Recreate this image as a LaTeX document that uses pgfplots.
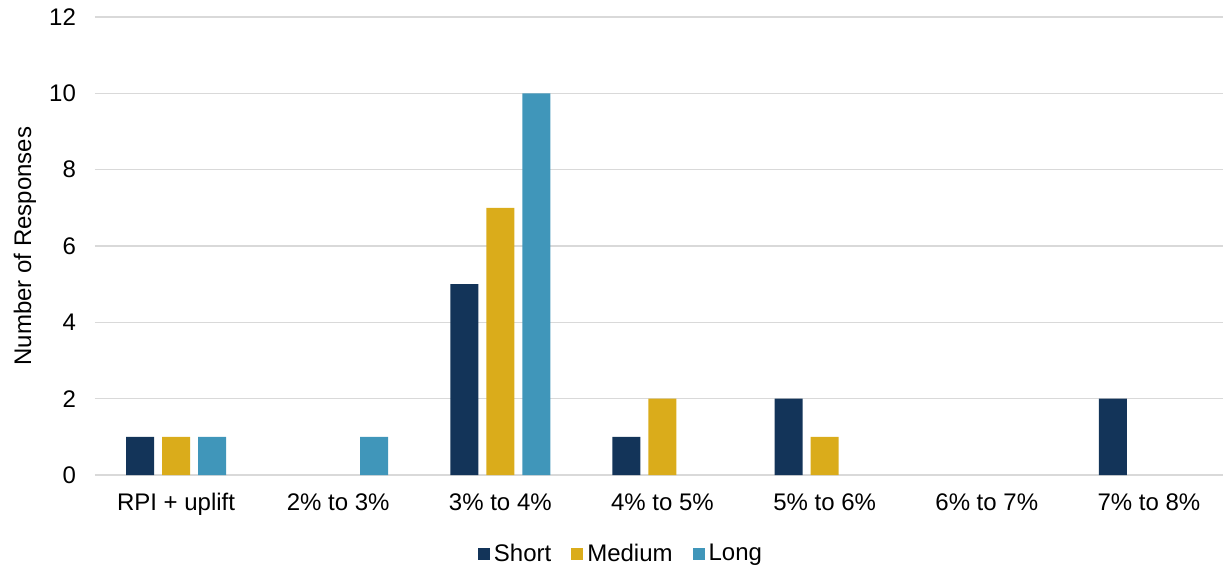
\documentclass[border=0pt]{standalone}
\usepackage{pgfplots}
\pgfplotsset{compat=1.18}
\usepackage{fontspec}
\setmainfont{Liberation Sans}
\definecolor{cShort}{HTML}{133459}
\definecolor{cMed}{HTML}{DAAC1B}
\definecolor{cLong}{HTML}{4096BA}
\definecolor{gridc}{HTML}{D9D9D9}
\begin{document}
\begin{tikzpicture}
\begin{axis}[
  scale only axis, width=567.5pt, height=229pt,
  ybar=4pt, bar width=14pt,
  xmin=-0.5, xmax=6.5, ymin=0, ymax=12,
  ytick={0,2,...,12},
  xtick={0,...,6},
  xticklabels={RPI + uplift, 2\% to 3\%, 3\% to 4\%, 4\% to 5\%, 5\% to 6\%, 6\% to 7\%, 7\% to 8\%},
  ymajorgrids, grid style={gridc, line width=0.8pt},
  axis x line*=bottom, axis y line*=left,
  x axis line style={gridc, line width=0.8pt, -},
  y axis line style={draw=none},
  major tick length=0pt,
  tick label style={font=\fontsize{12}{14}\selectfont, text=black},
  xticklabel style={yshift=-5pt, text height=9pt, text depth=2.5pt},
  yticklabel style={xshift=-6pt},
  /pgf/number format/assume math mode=true,
  ylabel={Number of Responses},
  every axis y label/.style={at={(axis description cs:-0.0617,0.5)}, rotate=90, anchor=center, font=\fontsize{12}{14}\selectfont},
  legend style={at={(rel axis cs:0.4643,-0.1725)}, anchor=center, draw=none, legend columns=-1,
    font=\fontsize{12}{14}\selectfont, /tikz/every even column/.append style={column sep=8pt}},
  legend image code/.code={\fill[#1] (-3pt,-3pt) rectangle (3pt,3pt);},
  every axis plot/.append style={draw=none},
]
\addplot[fill=cShort] coordinates {(0,1) (2,5) (3,1) (4,2) (6,2)};
\addplot[fill=cMed] coordinates {(0,1) (2,7) (3,2) (4,1)};
\addplot[fill=cLong] coordinates {(0,1) (1,1) (2,10)};
\legend{Short, Medium, Long}
\end{axis}
\pgfresetboundingbox
\path (-47.5pt,-47.5pt) rectangle (564pt,237.5pt);
\end{tikzpicture}
\end{document}
